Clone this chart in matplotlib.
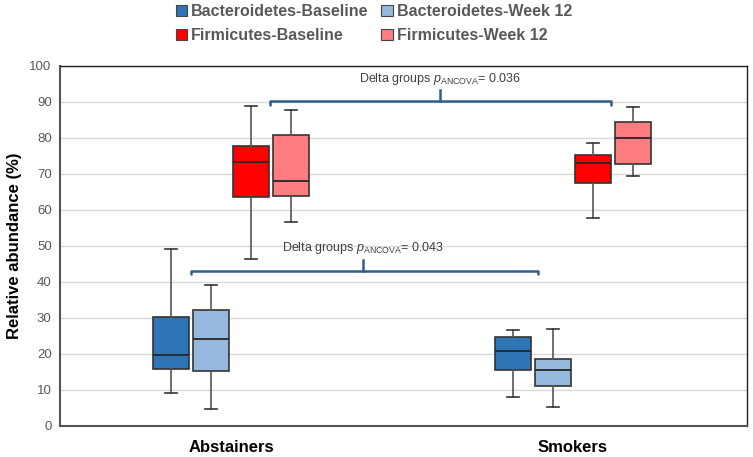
import matplotlib
matplotlib.use("Agg")
import matplotlib.pyplot as plt
from matplotlib.patches import Patch

plt.rcParams['font.family'] = ['Liberation Sans', 'DejaVu Sans']
plt.rcParams['mathtext.fontset'] = 'custom'
plt.rcParams['mathtext.rm'] = 'Liberation Sans'
plt.rcParams['mathtext.it'] = 'Liberation Sans:italic'

categories = ["Abstainers", "Smokers"]
series = ["Bacteroidetes-Baseline", "Bacteroidetes-Week 12", "Firmicutes-Baseline", "Firmicutes-Week 12"]
colors = ["#2e75b6", "#95b9dc", "#ff0000", "#ff7c80"]

# per series: [Abstainers, Smokers]
whislo = [[9.1, 8.1], [4.8, 5.4], [46.3, 57.8], [56.7, 69.5]]
q1 = [[15.7, 15.5], [15.2, 11.2], [63.5, 67.4], [63.8, 72.9]]
med = [[19.6, 20.9], [24.2, 15.5], [73.2, 73.0], [68.1, 79.9]]
q3 = [[30.3, 24.8], [32.3, 18.7], [77.8, 75.3], [80.7, 84.4]]
whishi = [[49.3, 26.7], [39.3, 27.0], [88.9, 78.7], [87.8, 88.6]]

brackets = [
    {"x": (-0.117, 0.898), "y": 43.1, "mid": 0.386, "label": "0.043"},
    {"x": (0.114, 1.111), "y": 90.2, "mid": 0.61, "label": "0.036"},
]

fig = plt.figure(figsize=(7.53, 4.57), dpi=100)
ax = fig.add_axes([60/753, 31/457, 687/753, 360/457])

off = 0.117
width = 0.105
for s in range(4):
    stats = []
    pos = []
    for c in range(2):
        stats.append({"med": med[s][c], "q1": q1[s][c], "q3": q3[s][c],
                      "whislo": whislo[s][c], "whishi": whishi[s][c], "fliers": []})
        pos.append(c + (s - 1.5) * off)
    ax.bxp(stats, positions=pos, widths=width, patch_artist=True, showfliers=False,
           capwidths=0.035,
           boxprops=dict(facecolor=colors[s], edgecolor="#333333", linewidth=1.2),
           medianprops=dict(color="#262626", linewidth=1.3),
           whiskerprops=dict(color="#555555", linewidth=1.2),
           capprops=dict(color="#333333", linewidth=1.2), zorder=3)

for b in brackets:
    x0, x1 = b["x"]
    y = b["y"]
    ax.plot([x0, x0, x1, x1], [y - 0.9, y, y, y - 0.9], color="#2f5d8c", lw=1.8,
            solid_capstyle="round", solid_joinstyle="round", zorder=4)
    ax.plot([b["mid"], b["mid"]], [y, y + 3.0], color="#2f5d8c", lw=1.8, zorder=4)
    ax.text(b["mid"], y + 6.3, r"Delta groups $\mathit{p}_{\mathrm{ANCOVA}}$= " + b["label"],
            ha="center", va="center", fontsize=9, color="#404040", zorder=5)

ax.set_xlim(-0.5, 1.509)
ax.set_ylim(0, 100)
ax.set_yticks(range(0, 101, 10))
ax.yaxis.grid(True, color="#d9d9d9", linewidth=1)
ax.set_axisbelow(True)
ax.set_xticks([0, 1])
ax.set_xticklabels(categories, fontsize=12, fontweight="bold", color="black")
ax.tick_params(axis="x", length=0, pad=10)
ax.tick_params(axis="y", length=0, pad=6, labelsize=9.5, labelcolor="#595959")
for sp in ax.spines.values():
    sp.set_color("#222222")
    sp.set_linewidth(1.0)
ax.spines["left"].set_color("#555555")
ax.spines["bottom"].set_color("#555555")
ax.spines["left"].set_linewidth(1.5)
ax.spines["bottom"].set_linewidth(1.5)
ax.set_ylabel("Relative abundance (%)", fontsize=12, fontweight="bold", color="black")
ax.yaxis.set_label_coords(-0.055, 0.5)

order = [0, 2, 1, 3]
handles = [Patch(facecolor=colors[i], edgecolor="#444444", linewidth=0.8) for i in order]
labels = [series[i] for i in order]
leg = fig.legend(handles, labels, ncol=2, loc="upper center", bbox_to_anchor=(374/753, 1.022),
                 frameon=False, fontsize=11.5, handlelength=0.7, handleheight=0.7,
                 handletextpad=0.25, columnspacing=0.8, labelspacing=0.55)
for t in leg.get_texts():
    t.set_color("#595959")
    t.set_fontweight("bold")

fig.savefig("out.png", dpi=100)
